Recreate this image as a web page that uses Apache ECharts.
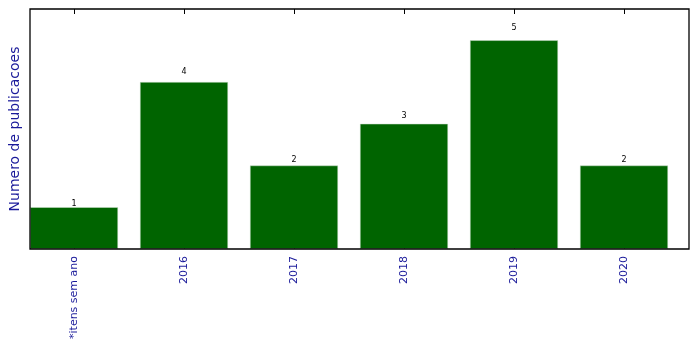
<!DOCTYPE html>
<html>
<head>
<meta charset="utf-8">
<script src="https://cdn.jsdelivr.net/npm/echarts@6/dist/echarts.min.js"></script>
<style>html,body{margin:0;padding:0;background:#fff;}#c{width:699px;height:349px;}</style>
</head>
<body>
<div id="c"></div>
<script>
const categories = ['*itens sem ano', '2016', '2017', '2018', '2019', '2020'];
const values = [1, 4, 2, 3, 5, 2];
const yMax = 5.75;
const yTitle = 'Numero de publicacoes';

const plotH = 240;
const pxPerUnit = plotH / yMax;
const chart = echarts.init(document.getElementById('c'), null, {renderer: 'canvas'});
const font = 'DejaVu Sans';
chart.setOption({
  animation: false,
  backgroundColor: '#fff',
  textStyle: {fontFamily: font},
  grid: [
    {left: 19, top: 9, width: 660, height: plotH, show: false, containLabel: false, outerBoundsMode: 'none'},
    {left: 30, top: 9, width: 659, height: plotH, show: true, borderColor: '#000', borderWidth: 1.3, backgroundColor: 'transparent', z: 10, containLabel: false, outerBoundsMode: 'none'}
  ],
  xAxis: [
    {type: 'category', gridIndex: 0, data: categories, position: 'bottom',
     axisLine: {show: false},
     axisTick: {show: true, inside: true, length: 5, interval: 0, alignWithLabel: true, lineStyle: {color: '#000'}},
     axisLabel: {rotate: 90, color: '#1a1a9a', fontSize: 11, margin: 7, fontFamily: font, interval: 0}},
    {type: 'category', gridIndex: 0, data: categories, position: 'top',
     axisLine: {show: false},
     axisTick: {show: true, inside: true, length: 5, interval: 0, alignWithLabel: true, lineStyle: {color: '#000'}},
     axisLabel: {show: false}},
    {type: 'value', gridIndex: 1, show: false}
  ],
  yAxis: [
    {type: 'value', gridIndex: 0, min: 0, max: yMax,
     axisLine: {show: false}, axisTick: {show: false}, axisLabel: {show: false}, splitLine: {show: false},
     name: yTitle, nameLocation: 'middle', nameGap: -3, nameRotate: 90,
     nameTextStyle: {color: '#1a1a9a', fontSize: 14, fontFamily: font}},
    {type: 'value', gridIndex: 1, show: false}
  ],
  series: [{
    type: 'bar', xAxisIndex: 0, yAxisIndex: 0, barWidth: 88,
    data: values.map(v => ({value: v, label: {distance: 0.05 * v * pxPerUnit - 2.5}})),
    itemStyle: {color: '#006400', borderColor: '#cfe0cf', borderWidth: 0.5},
    label: {show: true, position: 'top', fontSize: 8, color: '#000', fontFamily: font}
  }]
});
</script>
</body>
</html>
